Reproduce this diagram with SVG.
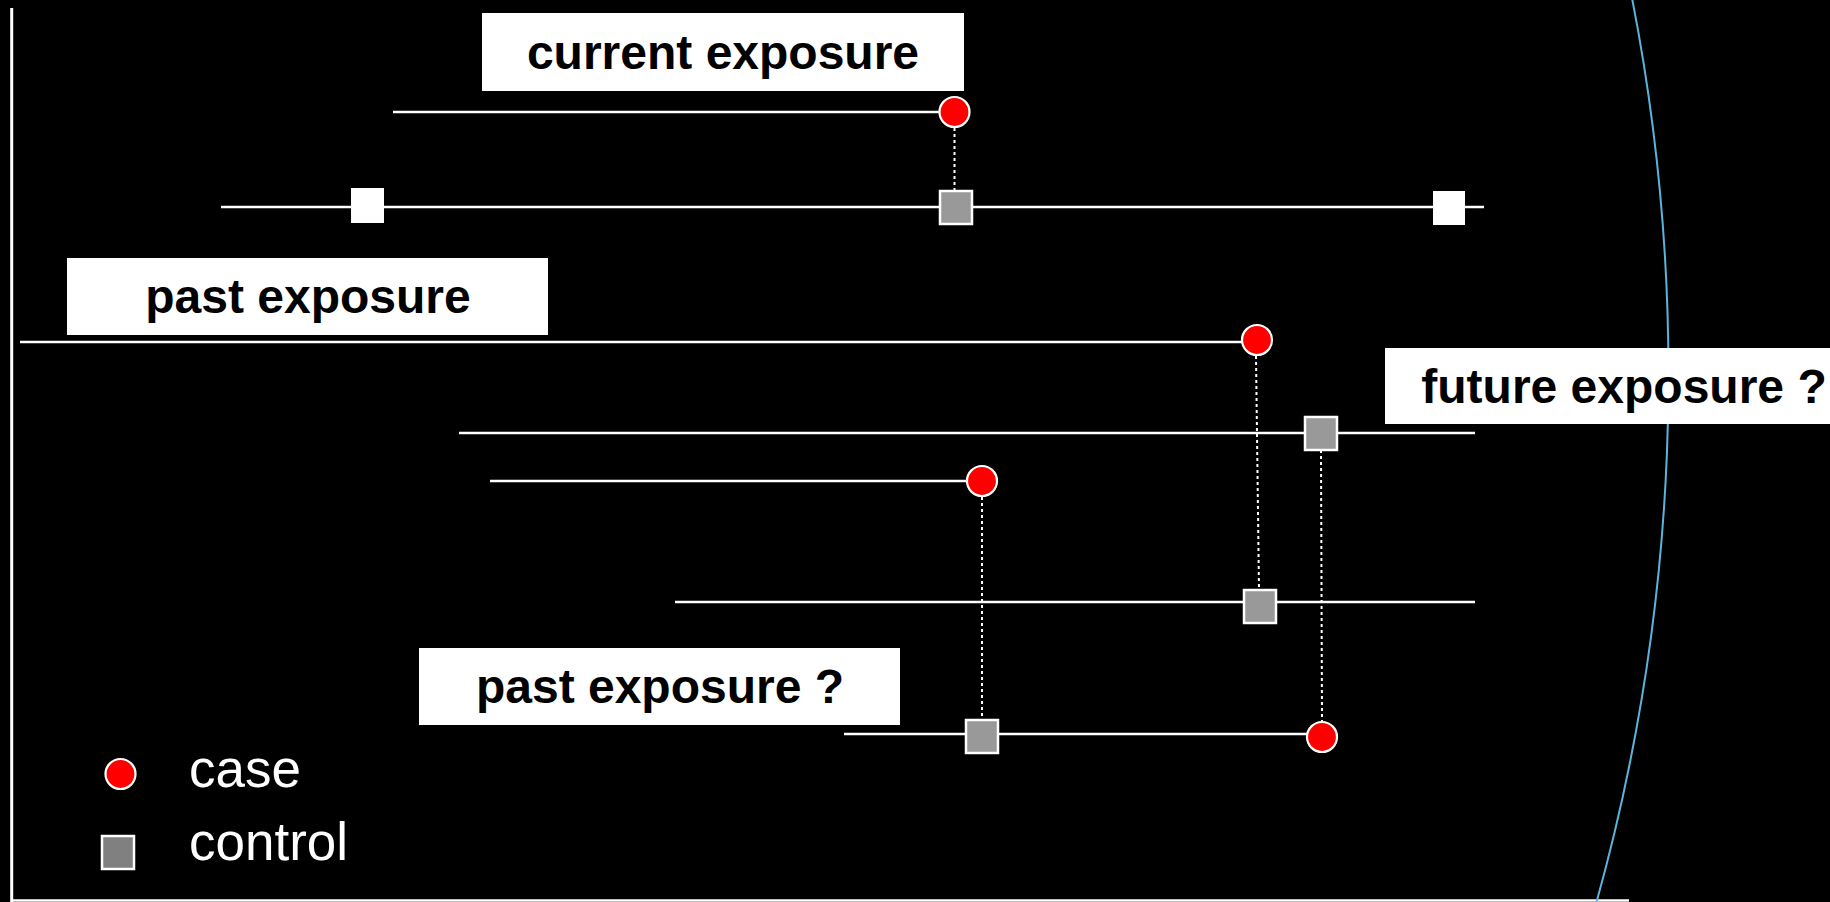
<svg xmlns="http://www.w3.org/2000/svg" width="1830" height="902" viewBox="0 0 1830 902">
<style>
.tl{stroke:#fff;stroke-width:2.5;fill:none}
.dot{stroke:#fff;stroke-width:2;stroke-dasharray:3 3;fill:none}
.case{fill:#ff0000;stroke:#fff;stroke-width:2.2}
.ctrl{fill:#999;stroke:#fff;stroke-width:2.5}
.wsq{fill:#fff}
.box{fill:#fff}
.lbl{font-family:"Liberation Sans",Arial,sans-serif;font-weight:bold;font-size:48px;fill:#000;text-anchor:middle}
.leg{font-family:"Liberation Sans",Arial,sans-serif;font-size:53px;fill:#fff}
</style>
<rect x="0" y="0" width="1830" height="902" fill="#000"/>
<g id="frame">
<line x1="11.7" y1="8" x2="11.7" y2="902" stroke="#fff" stroke-width="3"/>
<line x1="11" y1="900.5" x2="1629" y2="900.5" stroke="#fff" stroke-width="2.5"/>
<path d="M 1632 -2 A 1966 1966 0 0 1 1596 904" stroke="#5ab4dc" stroke-width="2" fill="none"/>
</g>
<g id="connectors">
<line class="tl" x1="393" y1="112" x2="940" y2="112"/>
<line class="tl" x1="221" y1="207" x2="1484" y2="207"/>
<line class="tl" x1="20" y1="342" x2="1243" y2="342"/>
<line class="tl" x1="459" y1="433" x2="1475" y2="433"/>
<line class="tl" x1="490" y1="481" x2="968" y2="481"/>
<line class="tl" x1="675" y1="602" x2="1475" y2="602"/>
<line class="tl" x1="844" y1="734" x2="1308" y2="734"/>
<line class="dot" x1="954.5" y1="128" x2="954.5" y2="191"/>
<line class="dot" x1="1256" y1="356" x2="1259" y2="590"/>
<line class="dot" x1="1321" y1="450" x2="1322" y2="721"/>
<line class="dot" x1="982" y1="497" x2="982" y2="720"/>
</g>
<g id="label-current">
<rect class="box" x="482" y="13" width="482" height="78"/>
<text class="lbl" x="723" y="69">current exposure</text>
</g>
<g id="label-past">
<rect class="box" x="67" y="258" width="481" height="77"/>
<text class="lbl" x="308" y="313">past exposure</text>
</g>
<g id="label-future">
<rect class="box" x="1385" y="348" width="450" height="76"/>
<text class="lbl" x="1624" y="403">future exposure ?</text>
</g>
<g id="label-past-q">
<rect class="box" x="419" y="648" width="481" height="77"/>
<text class="lbl" x="660" y="703">past exposure ?</text>
</g>
<g id="case1"><circle class="case" cx="954.5" cy="112" r="15"/></g>
<g id="control1"><rect class="ctrl" x="940" y="191" width="32" height="33"/></g>
<g id="ref1"><rect class="wsq" x="351" y="188" width="33" height="35"/></g>
<g id="ref2"><rect class="wsq" x="1433" y="191" width="32" height="34"/></g>
<g id="case2"><circle class="case" cx="1257" cy="340" r="15"/></g>
<g id="control2"><rect class="ctrl" x="1305" y="417" width="32" height="33"/></g>
<g id="case3"><circle class="case" cx="982" cy="481" r="15"/></g>
<g id="control3"><rect class="ctrl" x="1244" y="590" width="32" height="33"/></g>
<g id="control4"><rect class="ctrl" x="966" y="720" width="32" height="33"/></g>
<g id="case4"><circle class="case" cx="1322" cy="737" r="15"/></g>
<g id="legend">
<circle class="case" cx="120.5" cy="774" r="15"/>
<text class="leg" x="189" y="787">case</text>
<rect x="102" y="836" width="32" height="33" fill="#808080" stroke="#fff" stroke-width="2.5"/>
<text class="leg" x="189" y="860">control</text>
</g>
</svg>
